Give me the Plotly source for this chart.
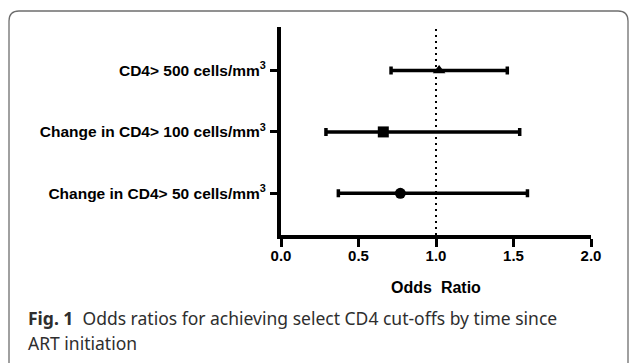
import plotly.graph_objects as go

# ---- data ----
categories = [
    "Change in CD4> 50 cells/mm<sup>3</sup>",
    "Change in CD4> 100 cells/mm<sup>3</sup>",
    "CD4> 500 cells/mm<sup>3</sup>",
]
odds_ratio = [0.77, 0.66, 1.02]
ci_lower = [0.37, 0.29, 0.71]
ci_upper = [1.59, 1.54, 1.46]
symbols = ["circle", "square", "triangle-up"]
x_ticks = [0.0, 0.5, 1.0, 1.5, 2.0]
x_tick_labels = ["0.0", "0.5", "1.0", "1.5", "2.0"]

W, H = 630, 363
L, R, T, B = 281, 39, 27, 128
PW, PH = W - L - R, H - T - B


def px(x):
    return (x - L) / PW


def py(y):
    return (H - B - y) / PH


fig = go.Figure()
for i, cat in enumerate(categories):
    fig.add_trace(go.Scatter(
        x=[odds_ratio[i]], y=[cat], mode="markers",
        marker=dict(symbol=symbols[i], size=11, color="black"),
        error_x=dict(type="data", symmetric=False,
                     array=[ci_upper[i] - odds_ratio[i]],
                     arrayminus=[odds_ratio[i] - ci_lower[i]],
                     color="black", thickness=3.5, width=4),
        showlegend=False, cliponaxis=False,
    ))

fig.add_shape(type="line", xref="x", yref="paper", x0=1, x1=1, y0=0, y1=1,
              line=dict(color="black", width=2, dash="2px,4px"), layer="below")

# rounded frame
fx0, fy0, fx1, fy1, rr = 9, 11, 628, 375, 10
path = (f"M {px(fx0)},{py(fy1)} L {px(fx0)},{py(fy0 + rr)} "
        f"Q {px(fx0)},{py(fy0)} {px(fx0 + rr)},{py(fy0)} "
        f"L {px(fx1 - rr)},{py(fy0)} Q {px(fx1)},{py(fy0)} {px(fx1)},{py(fy0 + rr)} "
        f"L {px(fx1)},{py(fy1)}")
fig.add_shape(type="path", xref="paper", yref="paper", path=path,
              line=dict(color="#6e6e6e", width=1.3))

cap_font = dict(family="Noto Sans", size=17.5, color="#2e2e2e")
fig.add_annotation(xref="paper", yref="paper", x=px(26), y=py(318),
                   xanchor="left", yanchor="middle", showarrow=False,
                   text="<b>Fig. 1</b>  Odds ratios for achieving select CD4 cut-offs by time since",
                   font=cap_font)
fig.add_annotation(xref="paper", yref="paper", x=px(26), y=py(343),
                   xanchor="left", yanchor="middle", showarrow=False,
                   text="ART initiation", font=cap_font)

bold_tick = dict(size=15, family="Liberation Sans", weight="bold", color="black")
bold_ytick = dict(size=15.5, family="Liberation Sans", weight="bold", color="black")
fig.update_layout(
    width=W, height=H,
    margin=dict(l=L, r=R, t=T, b=B, pad=0),
    paper_bgcolor="white", plot_bgcolor="white",
    font=dict(family="Liberation Sans, Arial, sans-serif", color="black"),
    xaxis=dict(range=[0, 2], tickvals=x_ticks, ticktext=x_tick_labels,
               showgrid=False, zeroline=False, showline=True, linewidth=4,
               linecolor="black", ticks="outside", ticklen=8, tickwidth=3,
               tickcolor="black", tickfont=bold_tick, ticklabelstandoff=-4,
               title=dict(text="Odds  Ratio",
                          font=dict(size=16, family="Liberation Sans", weight="bold"),
                          standoff=20)),
    yaxis=dict(type="category", categoryarray=categories, range=[-0.68, 2.71],
               showgrid=False, zeroline=False, showline=True, linewidth=4,
               linecolor="black", ticks="outside", ticklen=7, tickwidth=3,
               tickcolor="black", ticklabelstandoff=1, tickfont=bold_ytick),
)

fig.write_html("out.html", config={"displayModeBar": False},
               post_script="document.body.style.margin='0';")
